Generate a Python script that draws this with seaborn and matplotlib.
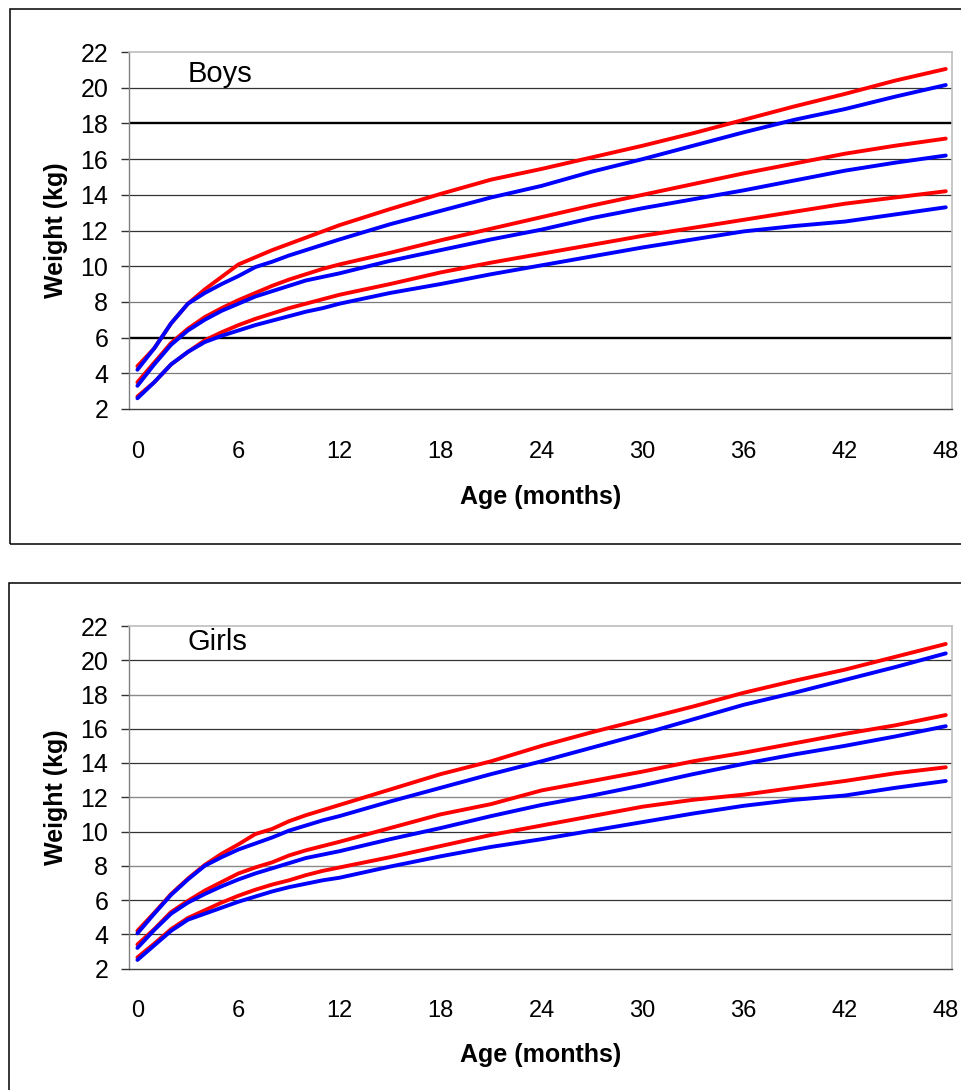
import matplotlib
matplotlib.use("Agg")
import matplotlib.pyplot as plt
import seaborn as sns
import pandas as pd
from matplotlib.patches import Rectangle
from matplotlib.ticker import FixedLocator

sns.set_style("white")
plt.rcParams['font.family'] = ['Liberation Sans', 'DejaVu Sans']
plt.rcParams['text.color'] = 'black'
plt.rcParams['axes.labelcolor'] = 'black'
plt.rcParams['xtick.labelcolor'] = 'black'
plt.rcParams['ytick.labelcolor'] = 'black'

ages = [0, 1, 2, 3, 4, 5, 6, 7, 8, 9, 10, 11, 12, 15, 18, 21, 24, 27, 30, 33, 36, 39, 42, 45, 48]

# Boys (red = reference A, blue = reference B); low / middle / high curves
boys_red_low = [2.7, 3.5, 4.5, 5.2, 5.85, 6.3, 6.7, 7.05, 7.35, 7.65, 7.9, 8.15, 8.4, 9.0, 9.65, 10.2, 10.7, 11.2, 11.7, 12.15, 12.6, 13.05, 13.5, 13.85, 14.2]
boys_blue_low = [2.6, 3.5, 4.5, 5.2, 5.75, 6.1, 6.4, 6.7, 6.95, 7.2, 7.45, 7.65, 7.9, 8.5, 9.0, 9.55, 10.05, 10.55, 11.05, 11.5, 11.95, 12.25, 12.5, 12.9, 13.3]
boys_red_mid = [3.5, 4.6, 5.7, 6.5, 7.15, 7.65, 8.1, 8.5, 8.9, 9.25, 9.55, 9.85, 10.1, 10.75, 11.45, 12.1, 12.75, 13.4, 14.0, 14.6, 15.2, 15.75, 16.3, 16.75, 17.15]
boys_blue_mid = [3.3, 4.5, 5.6, 6.4, 7.0, 7.5, 7.9, 8.3, 8.6, 8.9, 9.2, 9.4, 9.6, 10.3, 10.9, 11.5, 12.05, 12.7, 13.25, 13.75, 14.25, 14.8, 15.35, 15.8, 16.2]
boys_red_high = [4.4, 5.4, 6.8, 7.9, 8.7, 9.4, 10.1, 10.5, 10.9, 11.25, 11.6, 11.95, 12.3, 13.2, 14.05, 14.85, 15.45, 16.1, 16.75, 17.45, 18.2, 18.95, 19.65, 20.4, 21.05]
boys_blue_high = [4.2, 5.4, 6.8, 7.9, 8.5, 9.0, 9.45, 9.95, 10.25, 10.6, 10.9, 11.2, 11.5, 12.35, 13.1, 13.85, 14.5, 15.3, 16.0, 16.75, 17.5, 18.2, 18.8, 19.5, 20.15]

# Girls
girls_red_low = [2.65, 3.45, 4.3, 4.95, 5.4, 5.85, 6.25, 6.6, 6.9, 7.15, 7.45, 7.7, 7.9, 8.5, 9.15, 9.8, 10.35, 10.9, 11.45, 11.85, 12.15, 12.55, 12.95, 13.4, 13.75]
girls_blue_low = [2.5, 3.35, 4.2, 4.85, 5.2, 5.55, 5.9, 6.2, 6.5, 6.75, 6.95, 7.15, 7.3, 7.95, 8.55, 9.1, 9.55, 10.05, 10.55, 11.05, 11.5, 11.85, 12.1, 12.55, 12.95]
girls_red_mid = [3.4, 4.3, 5.3, 5.95, 6.55, 7.05, 7.55, 7.9, 8.2, 8.6, 8.9, 9.15, 9.4, 10.2, 11.0, 11.6, 12.4, 12.95, 13.5, 14.1, 14.6, 15.15, 15.7, 16.2, 16.8]
girls_blue_mid = [3.2, 4.25, 5.2, 5.85, 6.35, 6.8, 7.2, 7.55, 7.85, 8.15, 8.45, 8.65, 8.85, 9.55, 10.2, 10.9, 11.55, 12.1, 12.7, 13.35, 13.95, 14.5, 15.0, 15.55, 16.15]
girls_red_high = [4.2, 5.25, 6.35, 7.25, 8.05, 8.7, 9.25, 9.85, 10.15, 10.6, 10.95, 11.25, 11.55, 12.45, 13.35, 14.1, 15.0, 15.8, 16.55, 17.3, 18.1, 18.8, 19.45, 20.2, 20.95]
girls_blue_high = [4.05, 5.2, 6.3, 7.2, 8.0, 8.5, 8.95, 9.3, 9.65, 10.05, 10.35, 10.65, 10.9, 11.75, 12.55, 13.35, 14.1, 14.9, 15.7, 16.55, 17.4, 18.1, 18.85, 19.6, 20.4]

y_ticks = [2, 4, 6, 8, 10, 12, 14, 16, 18, 20, 22]
x_labels = [0, 6, 12, 18, 24, 30, 36, 42, 48]
x_minor = [-0.5 + 3 * k for k in range(17)]

W, H = 962, 1090
fig = plt.figure(figsize=(W / 100, H / 100), dpi=100)

def px_rect(left, top, right, bottom):
    return [left / W, 1 - bottom / H, (right - left) / W, (bottom - top) / H]

def make_panel(rect, title, title_y, series, grid_style, xlabelpad):
    ax = fig.add_axes(rect)
    for red, blue in series:
        sns.lineplot(x=ages, y=red, color="#ff0000", lw=2.8, ax=ax, zorder=3)
        sns.lineplot(x=ages, y=blue, color="#0000ff", lw=2.8, ax=ax, zorder=4)
    ax.set_xlim(-0.5, 48.37)
    ax.set_ylim(2, 22)
    ax.set_yticks(y_ticks)
    ax.set_yticklabels([str(v) for v in y_ticks])
    ax.set_xticks(x_labels)
    ax.set_xticklabels([str(v) for v in x_labels])
    ax.xaxis.set_minor_locator(FixedLocator(x_minor))
    ax.tick_params(axis='x', which='major', length=0, pad=23, labelsize=17, labelcolor='black')
    ax.tick_params(axis='x', which='minor', length=5.5, width=1.0, color='#333333', direction='out')
    ax.tick_params(axis='y', which='major', length=6, width=1.0, color='#333333',
                   direction='out', pad=9, labelsize=18, labelcolor='black')
    ax.tick_params(left=True, bottom=True)
    for v in y_ticks[1:-1]:
        c, lw = grid_style.get(v, ('#333333', 0.9))
        ax.axhline(v, color=c, lw=lw, zorder=1)
    for s in ['top', 'right']:
        ax.spines[s].set_color('#bdbdbd')
        ax.spines[s].set_linewidth(1.2)
    ax.spines['left'].set_color('#808080')
    ax.spines['left'].set_linewidth(1.0)
    ax.spines['bottom'].set_color('#404040')
    ax.spines['bottom'].set_linewidth(1.0)
    ax.set_xlabel("Age (months)", fontsize=18, fontweight='bold', labelpad=xlabelpad, color='black')
    ax.set_ylabel("Weight (kg)", fontsize=18, fontweight='bold', labelpad=9, color='black')
    ax.text(3.0, title_y, title, fontsize=21, ha='left', va='baseline', color='black')
    return ax

boys_grid = {6: ('#000000', 1.7), 18: ('#000000', 1.7), 4: ('#7a7a7a', 0.9), 8: ('#7a7a7a', 0.9)}
girls_grid = {8: ('#8a8a8a', 1.0), 12: ('#8a8a8a', 1.0), 18: ('#8a8a8a', 1.0)}

ax1 = make_panel(px_rect(129, 52, 952, 409), "Boys", 20.3,
                 [(boys_red_low, boys_blue_low), (boys_red_mid, boys_blue_mid), (boys_red_high, boys_blue_high)],
                 boys_grid, 16)
ax2 = make_panel(px_rect(129, 626, 952, 968.5), "Girls", 20.6,
                 [(girls_red_low, girls_blue_low), (girls_red_mid, girls_blue_mid), (girls_red_high, girls_blue_high)],
                 girls_grid, 15)

fig.patches.append(Rectangle((9.5 / W, 1 - 544 / H), 1.0, (544 - 9.5) / H, transform=fig.transFigure,
                             fill=False, ec='black', lw=1.1))
fig.patches.append(Rectangle((8.5 / W, -0.1), 1.0, (1 - 583 / H) + 0.1, transform=fig.transFigure,
                             fill=False, ec='black', lw=1.1))

fig.savefig("out.png", dpi=100)
